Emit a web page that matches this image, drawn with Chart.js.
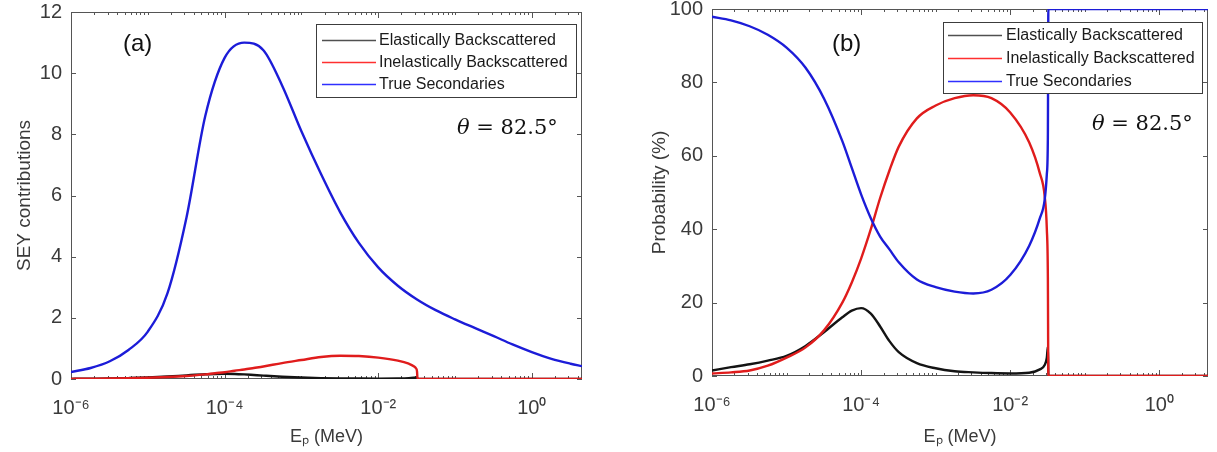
<!DOCTYPE html>
<html>
<head>
<meta charset="utf-8">
<script src="https://cdn.jsdelivr.net/npm/chart.js@4.4.1/dist/chart.umd.min.js"></script>
<style>
    body { margin: 0; background: #fff; width: 1217px; height: 452px; overflow: hidden; position: relative;
           font-family: "Liberation Sans", Arial, sans-serif; }
    .panel { position: absolute; top: 0; height: 452px; }
    #wrapA { left: 0; width: 600px; }
    #wrapB { left: 620px; width: 597px; }
    .tag { position: absolute; font-size: 24px; line-height: 1; color: #111; }
    .theta { position: absolute; font-family: "DejaVu Serif", serif; font-size: 21px; line-height: 1; color: #111; white-space: nowrap; }
</style>
</head>
<body>
<div class="panel" id="wrapA"><canvas id="chartA"></canvas></div>
<div class="panel" id="wrapB"><canvas id="chartB"></canvas></div>
<div class="tag" style="left:123px; top:31px;">(a)</div>
<div class="tag" style="left:832px; top:31px;">(b)</div>
<div class="theta" style="left:457px; top:117px;"><i>θ</i> = 82.5°</div>
<div class="theta" style="left:1092px; top:113px;"><i>θ</i> = 82.5°</div>

<script>
// --- Data ---
const seriesNames = ['Elastically Backscattered', 'Inelastically Backscattered', 'True Secondaries'];

// primary energy (MeV); the second grid is denser around the peak and near the cut-off at ~3e-2 MeV
const energySmooth = [1e-6, 1.8e-6, 3.2e-6, 5.6e-6, 1e-5, 1.8e-5, 3.2e-5, 5.6e-5, 1e-4, 1.8e-4, 3.2e-4, 5.6e-4,
                      1e-3, 1.8e-3, 3.2e-3, 5.6e-3, 1e-2, 1.8e-2, 3.2e-2, 5.6e-2, 0.1, 0.18, 0.32, 0.56,
                      1, 1.8, 3.2, 4.5];
const energyCut    = [1e-6, 1.8e-6, 3.2e-6, 5.6e-6, 1e-5, 1.8e-5, 3.2e-5, 5.6e-5, 7.5e-5, 1e-4, 1.35e-4,
                      1.8e-4, 2.4e-4, 3.2e-4, 5.6e-4, 1e-3, 1.8e-3, 3.2e-3, 5.6e-3, 1e-2, 1.8e-2, 2.5e-2,
                      2.9e-2, 3.1e-2, 3.2e-2, 3.25e-2, 5.6e-2, 0.1, 0.18, 0.32, 0.56, 1, 1.8, 3.2, 4.5];

// (a) SEY contributions
const seyElastic   = [0.005, 0.01, 0.015, 0.03, 0.05, 0.08, 0.12, 0.155, 0.165, 0.17, 0.165,
                      0.15, 0.13, 0.11, 0.075, 0.05, 0.03, 0.02, 0.015, 0.012, 0.015, 0.025,
                      0.04, 0.05, 0.06, 0, 0, 0, 0, 0, 0, 0, 0, 0, 0];
const seyInelastic = [0.005, 0.01, 0.015, 0.025, 0.04, 0.065, 0.1, 0.15, 0.19, 0.22, 0.27,
                      0.31, 0.36, 0.41, 0.52, 0.62, 0.72, 0.76, 0.75, 0.7, 0.6, 0.5,
                      0.42, 0.35, 0.25, 0, 0, 0, 0, 0, 0, 0, 0, 0, 0];
const seyTrue      = [0.23, 0.36, 0.58, 0.95, 1.55, 2.8, 5.3, 8.6, 10.5, 11.0, 10.75, 9.6,
                      8.1, 6.7, 5.45, 4.45, 3.65, 3.05, 2.6, 2.25, 1.95, 1.67, 1.4, 1.13,
                      0.88, 0.66, 0.5, 0.42];

// (b) probability, %
const probElastic   = [1.5, 2.4, 3.2, 4.2, 5.5, 8.2, 12, 16, 17.8, 18.5, 17,
                       13.5, 9.5, 6.5, 3.5, 2.1, 1.3, 1.0, 0.8, 0.7, 0.9, 1.8,
                       3, 5, 8, 0, 0, 0, 0, 0, 0, 0, 0, 0, 0];
const probInelastic = [0.7, 1.0, 1.5, 2.8, 5.0, 7.8, 12.5, 20, 25.5, 32, 40,
                       48.5, 56, 62.5, 70.2, 73.7, 75.7, 76.5, 75.7, 71.8, 63.6, 55.2,
                       49, 40, 27, 0, 0, 0, 0, 0, 0, 0, 0, 0, 0];
const probTrue      = [97.9, 96.9, 95.3, 93, 89.5, 84, 75.5, 64, 56.7, 49.5, 43,
                       38, 34.5, 31, 26.3, 24.2, 23, 22.5, 23.5, 27.5, 35.5, 43,
                       48, 55, 65, 100, 100, 100, 100, 100, 100, 100, 100, 100, 100];

const xTickValues = [1e-6, 1e-4, 1e-2, 1];
const xTickLabels = ['10⁻⁶', '10⁻⁴', '10⁻²', '10⁰'];
const yTicksA = [0, 2, 4, 6, 8, 10, 12];
const yTicksB = [0, 20, 40, 60, 80, 100];

const lineColors   = ['#141414', '#e01c1c', '#1c1cd8'];
const legendColors = ['#505050', '#ff3030', '#2f2fff'];
const FONT = '"Liberation Sans", Arial, sans-serif';
const TXT = '#3a3a3a';

// box around the axes with MATLAB style inward ticks
const boxAxes = {
    id: 'boxAxes',
    beforeDatasetsDraw(chart) {
        const { ctx, chartArea: a, scales: { x, y } } = chart;
        ctx.save();
        ctx.strokeStyle = '#555555';
        ctx.lineWidth = 1;
        ctx.strokeRect(a.left + 0.5, a.top + 0.5, a.right - a.left - 1, a.bottom - a.top - 1);
        ctx.beginPath();
        for (let d = -6; d <= 0; d++) {
            for (let m = 1; m <= 9; m++) {
                const v = m * Math.pow(10, d);
                if (v > x.max) continue;
                const px = Math.round(x.getPixelForValue(v)) + 0.5;
                const len = (m === 1 && d % 2 === 0) ? 6 : 3;
                ctx.moveTo(px, a.bottom); ctx.lineTo(px, a.bottom - len);
                ctx.moveTo(px, a.top); ctx.lineTo(px, a.top + len);
            }
        }
        y.ticks.forEach(t => {
            const py = Math.round(y.getPixelForValue(t.value)) + 0.5;
            ctx.moveTo(a.left, py); ctx.lineTo(a.left + 5, py);
            ctx.moveTo(a.right, py); ctx.lineTo(a.right - 5, py);
        });
        ctx.stroke();
        ctx.restore();
    }
};

// legend drawn as a framed box inside the axes
const boxLegend = {
    id: 'boxLegend',
    afterDraw(chart, args, o) {
        const ctx = chart.ctx;
        ctx.save();
        ctx.fillStyle = '#fff';
        ctx.fillRect(o.x, o.y, o.w, o.h);
        ctx.strokeStyle = '#3c3c3c';
        ctx.lineWidth = 1;
        ctx.strokeRect(o.x + 0.5, o.y + 0.5, o.w, o.h);
        ctx.font = '16px ' + FONT;
        ctx.textBaseline = 'middle';
        chart.data.datasets.forEach((ds, i) => {
            const yy = o.y + o.rows[i] + 0.5;
            ctx.strokeStyle = legendColors[i];
            ctx.lineWidth = 1.3;
            ctx.beginPath();
            ctx.moveTo(o.x + o.lineFrom, yy);
            ctx.lineTo(o.x + o.lineTo, yy);
            ctx.stroke();
            ctx.fillStyle = '#1a1a1a';
            ctx.fillText(ds.label, o.x + o.textAt, yy);
        });
        ctx.restore();
    }
};

function makeDatasets(series) {
    return series.map((s, i) => ({
        label: seriesNames[i],
        data: s.x.map((e, k) => ({ x: e, y: s.y[k] })),
        borderColor: lineColors[i],
        borderWidth: 2.4,
        pointRadius: 0,
        cubicInterpolationMode: 'monotone',
        order: 2 - i
    }));
}

function makePanel(id, cfg) {
    return new Chart(document.getElementById(id), {
        type: 'line',
        data: { datasets: makeDatasets(cfg.series) },
        options: {
            responsive: true,
            maintainAspectRatio: false,
            animation: false,
            layout: { padding: { top: cfg.top, right: cfg.right, left: 0, bottom: 0 } },
            plugins: {
                legend: { display: false },
                tooltip: { enabled: false },
                boxLegend: cfg.legend
            },
            scales: {
                x: {
                    type: 'logarithmic',
                    min: 1e-6,
                    max: 4.5,
                    afterBuildTicks: s => { s.ticks = xTickValues.map(v => ({ value: v })); },
                    afterFit: s => { s.height = cfg.xHeight; s.paddingLeft = 0; s.paddingRight = 0; },
                    grid: { display: false, drawTicks: false },
                    border: { display: false },
                    ticks: {
                        autoSkip: false, maxRotation: 0, padding: 17, color: TXT,
                        font: { family: FONT, size: 20 },
                        callback: (v, i) => xTickLabels[i]
                    },
                    title: { display: true, text: 'Eₚ (MeV)', color: TXT,
                             font: { family: FONT, size: 18 }, padding: { bottom: 4 } }
                },
                y: {
                    min: 0,
                    max: cfg.yMax,
                    afterBuildTicks: s => { s.ticks = cfg.yTicks.map(v => ({ value: v })); },
                    afterFit: s => { s.width = cfg.yWidth; s.paddingTop = 0; s.paddingBottom = 0; },
                    grid: { display: false, drawTicks: false },
                    border: { display: false },
                    ticks: { padding: 9, color: TXT, font: { family: FONT, size: 20 } },
                    title: { display: true, text: cfg.yTitle, color: TXT,
                             font: { family: FONT, size: 19 }, padding: { top: cfg.yTitlePad } }
                }
            }
        },
        plugins: [boxAxes, boxLegend]
    });
}

makePanel('chartA', {
    series: [
        { x: energyCut, y: seyElastic },
        { x: energyCut, y: seyInelastic },
        { x: energySmooth, y: seyTrue }
    ],
    yMax: 12, yTicks: yTicksA, yTitle: 'SEY contributions', yTitlePad: 13,
    top: 12, right: 18, xHeight: 73, yWidth: 71,
    legend: { x: 316, y: 24, w: 260, h: 73, rows: [16, 38, 60], lineFrom: 6, lineTo: 60, textAt: 63 }
});

makePanel('chartB', {
    series: [
        { x: energyCut, y: probElastic },
        { x: energyCut, y: probInelastic },
        { x: energyCut, y: probTrue }
    ],
    yMax: 100, yTicks: yTicksB, yTitle: 'Probability (%)', yTitlePad: 28,
    top: 9, right: 9, xHeight: 76, yWidth: 92,
    legend: { x: 323, y: 22, w: 259, h: 71, rows: [13, 36, 59], lineFrom: 5, lineTo: 59, textAt: 63 }
});
</script>
</body>
</html>
